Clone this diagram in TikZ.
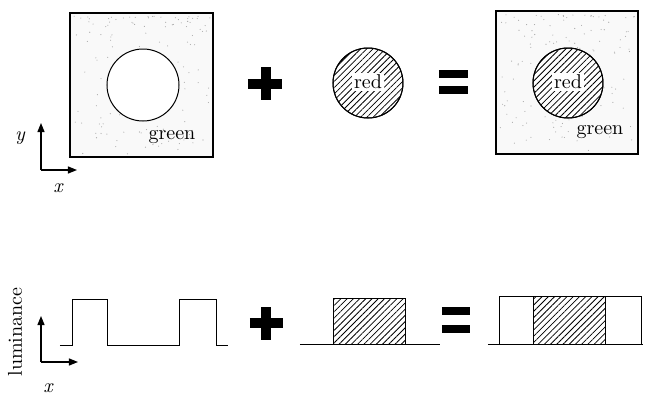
\documentclass[tikz,border=0pt]{standalone}
\usepackage{tikz}
\usetikzlibrary{arrows.meta,patterns.meta}

\begin{document}
\begin{tikzpicture}[x=0.5pt, y=-0.5pt, line width=0.5pt,
  frame/.style={line width=0.7pt},
  hatch/.style={pattern={Lines[angle=45, distance=2.2pt, line width=0.4pt]}},
  axis/.style={line width=0.6pt, -{Triangle[length=4.5pt, width=3.5pt]}},
  bar/.style={line width=5pt},
  eqbar/.style={line width=4pt},
  tag/.style={font=\normalsize, inner sep=1pt},
  speck/.style={gray!70}]
\useasboundingbox (0,0) rectangle (645,397);

% stippled square: left, top, right, bottom
\def\stipple#1#2#3#4{%
  \fill[gray!5] (#1,#2) rectangle (#3,#4);
  \foreach \i in {1,...,140}{
    \pgfmathsetmacro\px{#1+3+(#3-#1-6)*rnd}
    \pgfmathsetmacro\py{#2+3+(#4-#2-6)*rnd^1.6}
    \fill[speck] (\px,\py) circle (0.55);
  }
  \draw[frame] (#1,#2) rectangle (#3,#4);
}
\pgfmathsetseed{17}

% ---- top row: stimulus in the plane ----
\stipple{70}{13}{213}{157}
\draw[fill=white] (143,85) circle (36);
\node[tag] (gL) at (172,137) {green};

% axes
\coordinate (oT) at (41,170);
\draw[axis] (oT) -- ++(0,-47);
\draw[axis] (oT) -- ++(36,0);
\node[tag, font=\itshape] (yT) at (20,138) {y};
\node[tag, font=\itshape] (xT) at (58,188) {x};

% plus
\draw[bar] (248,84) -- (282,84);
\draw[bar] (266,67) -- (266,100);

% red disc
\fill[white] (368,83) circle (35);
\draw[hatch] (368,83) circle (35);
\draw (368,83) circle (35);
\node[tag, fill=white] (rM) at (368,82) {red};

% equals
\draw[eqbar] (439,74) -- (468,74);
\draw[eqbar] (439,90) -- (468,90);

% sum
\stipple{496}{11}{638}{154}
\fill[white] (568,83) circle (35);
\draw[hatch] (568,83) circle (35);
\draw (568,83) circle (35);
\node[tag, fill=white] (rR) at (568,82) {red};
\node[tag] (gR) at (600,132) {green};

% ---- bottom row: luminance profiles ----
\coordinate (oB) at (41,362);
\draw[axis] (oB) -- ++(0,-46);
\draw[axis] (oB) -- ++(37,0);
\node[tag, rotate=90] (lum) at (15,332) {luminance};
\node[tag, font=\itshape] (xB) at (48,388) {x};

% green profile
\draw (60,345) -- (73,345) -- (73,299) -- (108,299) -- (108,345)
  -- (180,345) -- (180,299) -- (217,299) -- (217,345) -- (228,345);

% plus
\draw[bar] (250,323) -- (283,323);
\draw[bar] (266.5,307) -- (266.5,340);

% red profile
\draw[hatch] (334,298) rectangle (406,344);
\draw (300,344) -- (334,344) -- (334,298) -- (406,298) -- (406,344) -- (440,344);

% equals
\draw[eqbar] (442,311) -- (470,311);
\draw[eqbar] (442,329) -- (470,329);

% sum profile
\draw[hatch] (534,296) rectangle (606,344);
\draw (488,344) -- (643,344);
\draw (500,344) -- (500,296) -- (642,296) -- (642,344);
\draw (534,296) -- (534,344);
\draw (606,296) -- (606,344);

\end{tikzpicture}
\end{document}
